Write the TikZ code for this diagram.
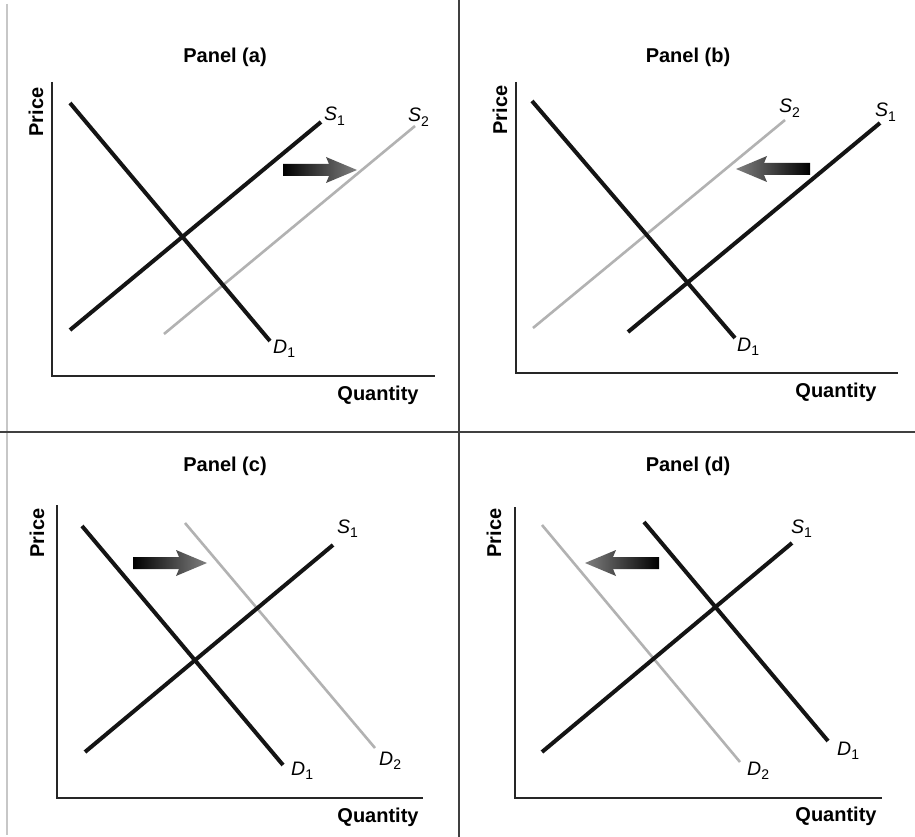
\documentclass[tikz,border=0pt]{standalone}
\usepackage{fontspec}
\setmainfont{Liberation Sans}
\usetikzlibrary{shadings}
\newcommand\crvlab[2]{\fontsize{19.5}{19.5}\selectfont\textit{#1}\raisebox{-0.45ex}{\fontsize{14}{14}\selectfont #2}}
\begin{document}
\begin{tikzpicture}[x=1pt,y=-1pt,
  blackcurve/.style={line width=4pt,black!92},
  graycurve/.style={line width=2.6pt,black!30},
  axisline/.style={line width=2pt,black!85},
  divider/.style={line width=2pt,black!75},
  ptitle/.style={font=\fontsize{20}{20}\selectfont\bfseries,anchor=base,inner sep=0pt},
  qlabel/.style={font=\fontsize{20}{20}\selectfont\bfseries,anchor=base,inner sep=0pt},
  plabel/.style={font=\fontsize{20}{20}\selectfont\bfseries,rotate=90,anchor=center,inner sep=0pt},
  clabel/.style={anchor=base west,inner sep=0pt},
  rarrow/.pic={\shade[left color=black,right color=black!50]
     (0,-6) -- (46,-6) -- (43,-13) -- (74,0) -- (43,13) -- (46,6) -- (0,6) -- cycle;},
  larrow/.pic={\shade[left color=black!50,right color=black]
     (0,-6) -- (-46,-6) -- (-43,-13) -- (-74,0) -- (-43,13) -- (-46,6) -- (0,6) -- cycle;}
]
\useasboundingbox (0,0) rectangle (915,837);
\fill[white] (0,0) rectangle (915,837);
% frame and dividers
\coordinate (fl1) at (7,4); \coordinate (fl2) at (7,835);
\draw[line width=1.5pt,black!22] (fl1) -- (fl2);
\coordinate (dv1) at (459,0); \coordinate (dv2) at (459,837);
\coordinate (dh1) at (0,432); \coordinate (dh2) at (915,432);
\draw[divider] (dv1) -- (dv2);
\draw[divider] (dh1) -- (dh2);

% ---------------- Panel (a)
\node[ptitle] (ta) at (225,63) {Panel (a)};
\node[plabel] (pa) at (36,112) {Price};
\node[qlabel] (qa) at (378,400) {Quantity};
\coordinate (ay) at (52,82); \coordinate (ao) at (52,376); \coordinate (ax) at (435,376);
\draw[axisline] (ay) -- (ao) -- (ax);
\coordinate (ad1a) at (70,103); \coordinate (ad1b) at (270,341);
\coordinate (as1a) at (70,330); \coordinate (as1b) at (321,122);
\coordinate (as2a) at (164,334); \coordinate (as2b) at (415,126);
\draw[graycurve] (as2a) -- (as2b);
\draw[blackcurve] (ad1a) -- (ad1b);
\draw[blackcurve] (as1a) -- (as1b);
\node[clabel] (las1) at (324,121) {\crvlab{S}{1}};
\node[clabel] (las2) at (408,122) {\crvlab{S}{2}};
\node[clabel] (lad1) at (273,353) {\crvlab{D}{1}};
\pic (arra) at (283,170) {rarrow};

% ---------------- Panel (b)
\node[ptitle] (tb) at (688,63) {Panel (b)};
\node[plabel] (pb) at (500,110) {Price};
\node[qlabel] (qb) at (836,397) {Quantity};
\coordinate (by) at (516,82); \coordinate (bo) at (516,373); \coordinate (bx) at (898,373);
\draw[axisline] (by) -- (bo) -- (bx);
\coordinate (bd1a) at (532,101); \coordinate (bd1b) at (735,338);
\coordinate (bs2a) at (533,328); \coordinate (bs2b) at (785,120);
\coordinate (bs1a) at (628,332); \coordinate (bs1b) at (880,123);
\draw[graycurve] (bs2a) -- (bs2b);
\draw[blackcurve] (bd1a) -- (bd1b);
\draw[blackcurve] (bs1a) -- (bs1b);
\node[clabel] (lbs2) at (779,113) {\crvlab{S}{2}};
\node[clabel] (lbs1) at (875,117) {\crvlab{S}{1}};
\node[clabel] (lbd1) at (737,351) {\crvlab{D}{1}};
\pic (arrb) at (810,169) {larrow};

% ---------------- Panel (c)
\node[ptitle] (tc) at (225,471) {Panel (c)};
\node[plabel] (pc) at (37,533) {Price};
\node[qlabel] (qc) at (378,822) {Quantity};
\coordinate (cy) at (57,505); \coordinate (co) at (57,798); \coordinate (cx) at (423,798);
\draw[axisline] (cy) -- (co) -- (cx);
\coordinate (cd1a) at (82,526); \coordinate (cd1b) at (283,765);
\coordinate (cs1a) at (85,752); \coordinate (cs1b) at (333,545);
\coordinate (cd2a) at (185,523); \coordinate (cd2b) at (375,748);
\draw[graycurve] (cd2a) -- (cd2b);
\draw[blackcurve] (cd1a) -- (cd1b);
\draw[blackcurve] (cs1a) -- (cs1b);
\node[clabel] (lcs1) at (337,533) {\crvlab{S}{1}};
\node[clabel] (lcd1) at (291,775) {\crvlab{D}{1}};
\node[clabel] (lcd2) at (379,765) {\crvlab{D}{2}};
\pic (arrc) at (133,563) {rarrow};

% ---------------- Panel (d)
\node[ptitle] (td) at (688,471) {Panel (d)};
\node[plabel] (pd) at (494,533) {Price};
\node[qlabel] (qd) at (836,821) {Quantity};
\coordinate (dy) at (515,507); \coordinate (do) at (515,798); \coordinate (dx) at (882,798);
\draw[axisline] (dy) -- (do) -- (dx);
\coordinate (dd2a) at (542,525); \coordinate (dd2b) at (740,762);
\coordinate (dd1a) at (644,522); \coordinate (dd1b) at (828,741);
\coordinate (ds1a) at (542,752); \coordinate (ds1b) at (792,543);
\draw[graycurve] (dd2a) -- (dd2b);
\draw[blackcurve] (dd1a) -- (dd1b);
\draw[blackcurve] (ds1a) -- (ds1b);
\node[clabel] (lds1) at (791,533) {\crvlab{S}{1}};
\node[clabel] (ldd1) at (837,755) {\crvlab{D}{1}};
\node[clabel] (ldd2) at (747,775) {\crvlab{D}{2}};
\pic (arrd) at (659,563) {larrow};
\end{tikzpicture}
\end{document}
